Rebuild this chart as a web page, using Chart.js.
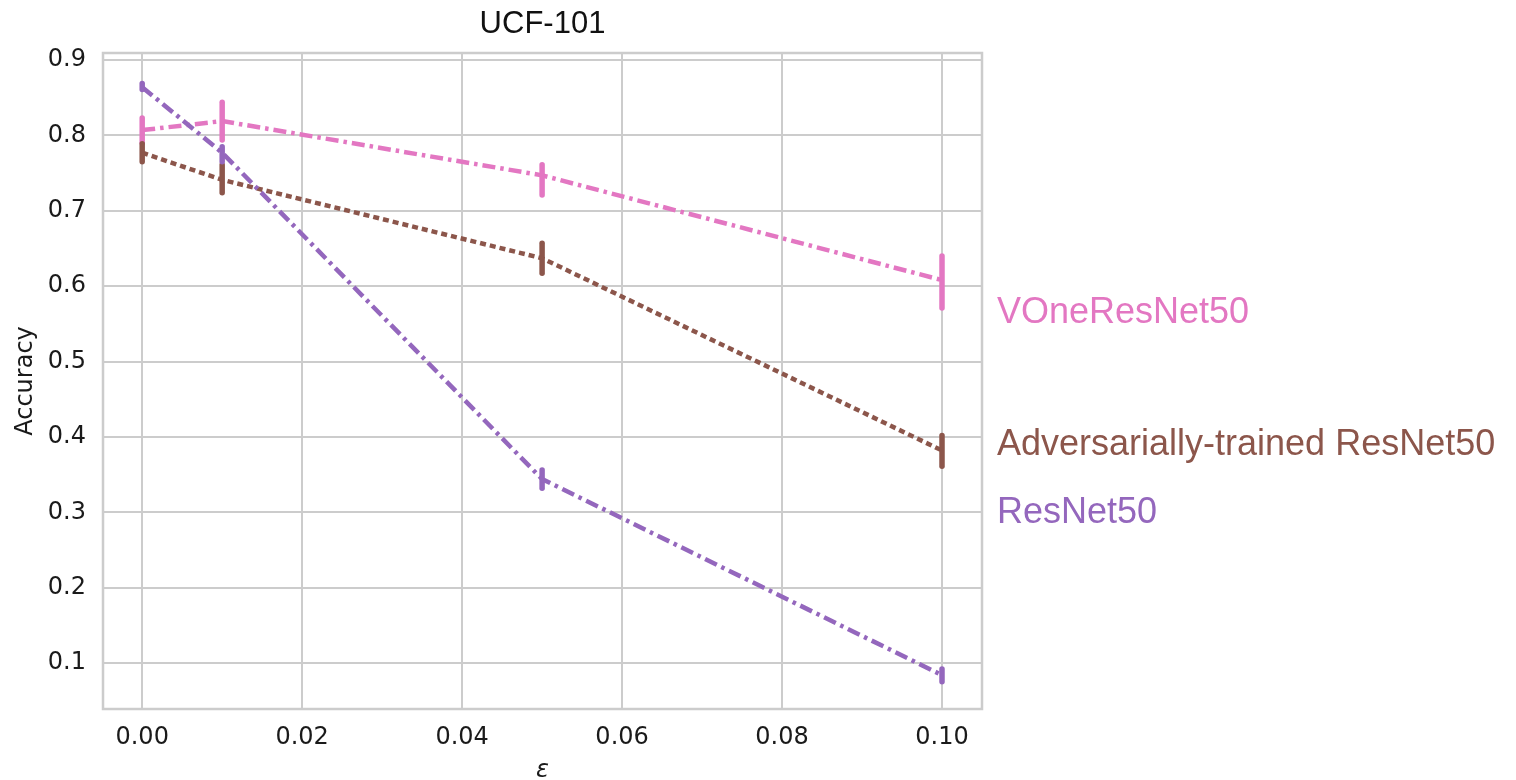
<!DOCTYPE html>
<html>
<head>
<meta charset="utf-8">
<script src="https://cdn.jsdelivr.net/npm/chart.js@4.4.1/dist/chart.umd.min.js"></script>
<style>
  html, body { margin: 0; padding: 0; background: #fff; }
  #wrap { width: 1516px; height: 780px; }
</style>
</head>
<body>
<div id="wrap"><canvas id="ucfChart" width="1516" height="780"></canvas></div>
<script>
// epsilon values (x axis)
const epsilons = [0, 0.01, 0.05, 0.1];

// mean accuracy per model
const vOneAcc = [0.807, 0.819, 0.747, 0.608];
const advAcc = [0.777, 0.741, 0.637, 0.382];
const resAcc = [0.864, 0.777, 0.344, 0.084];

// error bar ranges (low / high)
const vOneLow = [0.790, 0.794, 0.721, 0.571];
const vOneHigh = [0.823, 0.844, 0.761, 0.640];
const advLow = [0.765, 0.724, 0.617, 0.361];
const advHigh = [0.789, 0.761, 0.657, 0.402];
const resLow = [0.861, 0.765, 0.332, 0.075];
const resHigh = [0.869, 0.785, 0.356, 0.092];

// tick labels
const xTicks = [0, 0.02, 0.04, 0.06, 0.08, 0.1];
const yTicks = [0.1, 0.2, 0.3, 0.4, 0.5, 0.6, 0.7, 0.8, 0.9];

// model names and where their labels sit (in accuracy units)
const modelNames = ['VOneResNet50', 'Adversarially-trained ResNet50', 'ResNet50'];
const labelAnchors = [0.551, 0.376, 0.286];

const pink = '#e377c2';
const brown = '#8c564b';
const purple = '#9467bd';
const gridColor = '#cccccc';

function points(ys) {
  return epsilons.map((x, i) => ({ x: x, y: ys[i] }));
}

// error bars, frame and the model labels on the right
const extras = {
  id: 'extras',
  beforeDatasetsDraw(chart) {
    const a = chart.chartArea;
    const ctx = chart.ctx;
    ctx.save();
    ctx.strokeStyle = gridColor;
    ctx.lineWidth = 2.5;
    ctx.strokeRect(a.left, a.top, a.right - a.left, a.bottom - a.top);
    ctx.restore();
  },
  afterDatasetsDraw(chart) {
    const xs = chart.scales.x, ys = chart.scales.y;
    const ctx = chart.ctx;
    const bars = [
      [vOneLow, vOneHigh, pink],
      [advLow, advHigh, brown],
      [resLow, resHigh, purple]
    ];
    ctx.save();
    ctx.lineWidth = 5.5;
    ctx.lineCap = 'round';
    bars.forEach(([lo, hi, col]) => {
      ctx.strokeStyle = col;
      epsilons.forEach((e, i) => {
        const px = xs.getPixelForValue(e);
        ctx.beginPath();
        ctx.moveTo(px, ys.getPixelForValue(lo[i]));
        ctx.lineTo(px, ys.getPixelForValue(hi[i]));
        ctx.stroke();
      });
    });
    ctx.restore();

    ctx.save();
    ctx.font = '36px "Liberation Sans", Arial, sans-serif';
    ctx.textAlign = 'left';
    ctx.textBaseline = 'alphabetic';
    const cols = [pink, brown, purple];
    modelNames.forEach((name, i) => {
      ctx.fillStyle = cols[i];
      ctx.fillText(name, chart.chartArea.right + 15, ys.getPixelForValue(labelAnchors[i]));
    });
    ctx.restore();
  }
};

const ctx = document.getElementById('ucfChart').getContext('2d');
const ucfChart = new Chart(ctx, {
  type: 'line',
  data: {
    datasets: [
      {
        label: modelNames[2],
        data: points(resAcc),
        borderColor: purple,
        borderWidth: 4.5,
        borderDash: [13, 5, 3.5, 5],
        pointRadius: 0,
        fill: false,
        tension: 0,
        order: 0
      },
      {
        label: modelNames[0],
        data: points(vOneAcc),
        borderColor: pink,
        borderWidth: 4.5,
        borderDash: [13, 5, 3.5, 5],
        pointRadius: 0,
        fill: false,
        tension: 0,
        order: 1
      },
      {
        label: modelNames[1],
        data: points(advAcc),
        borderColor: brown,
        borderWidth: 4.5,
        borderDash: [6, 4],
        pointRadius: 0,
        fill: false,
        tension: 0,
        order: 2
      }
    ]
  },
  options: {
    responsive: false,
    animation: false,
    layout: { padding: { left: 0, right: 534, top: 6, bottom: 0 } },
    plugins: {
      legend: { display: false },
      tooltip: { enabled: false },
      title: {
        display: true,
        fullSize: false,
        text: 'UCF-101',
        color: '#111111',
        font: { family: '"Liberation Sans", Arial, sans-serif', size: 31, weight: 'normal' },
        padding: { top: 0, bottom: 9.8 }
      }
    },
    scales: {
      x: {
        type: 'linear',
        min: -0.0049,
        max: 0.105,
        afterBuildTicks: s => { s.ticks = xTicks.map(v => ({ value: v })); },
        afterFit: s => { s.height = 71; },
        grid: { color: gridColor, lineWidth: 2, drawTicks: false },
        border: { display: false },
        ticks: {
          padding: 14,
          color: '#1a1a1a',
          font: { family: '"DejaVu Sans", sans-serif', size: 24 },
          callback: v => v.toFixed(2)
        },
        title: {
          display: true,
          text: 'ε',
          color: '#1a1a1a',
          font: { family: '"DejaVu Sans", sans-serif', size: 24, style: 'italic', lineHeight: 0.8 },
          padding: { top: 0, bottom: 0 }
        }
      },
      y: {
        type: 'linear',
        min: 0.039,
        max: 0.9093,
        afterBuildTicks: s => { s.ticks = yTicks.map(v => ({ value: v })); },
        afterFit: s => { s.width = 103; },
        grid: { color: gridColor, lineWidth: 2, drawTicks: false },
        border: { display: false },
        ticks: {
          padding: 17,
          color: '#1a1a1a',
          font: { family: '"DejaVu Sans", sans-serif', size: 24 },
          callback: v => v.toFixed(1)
        },
        title: {
          display: true,
          text: 'Accuracy',
          color: '#1a1a1a',
          font: { family: '"DejaVu Sans", sans-serif', size: 24 },
          padding: { top: 11, bottom: 0 }
        }
      }
    }
  },
  plugins: [extras]
});
</script>
</body>
</html>
